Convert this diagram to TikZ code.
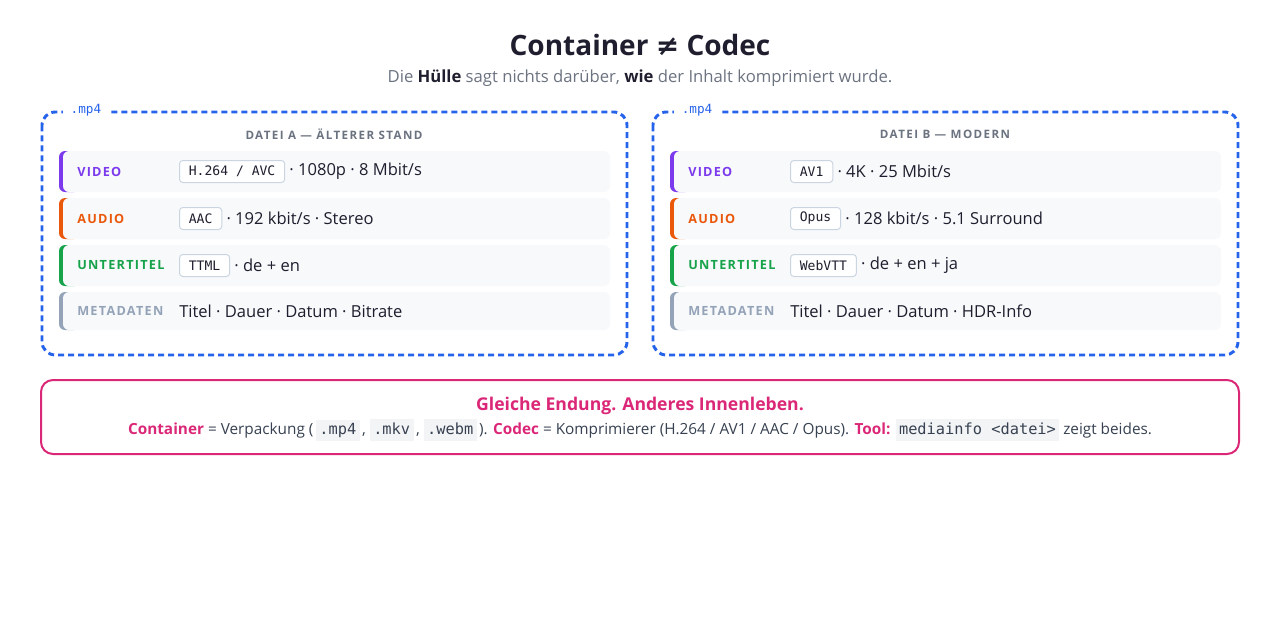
\documentclass[tikz,border=0pt]{standalone}
\usepackage{fontspec}
\setmainfont{Open Sans}
\setmonofont{DejaVu Sans Mono}
\newfontfamily\symfont{DejaVu Sans}
\usetikzlibrary{positioning}

\definecolor{ink}{HTML}{1E1E2E}
\definecolor{subgray}{HTML}{6B7280}
\definecolor{mp4blue}{HTML}{2563EB}
\definecolor{vidc}{HTML}{7C3AED}
\definecolor{audc}{HTML}{EA580C}
\definecolor{subc}{HTML}{16A34A}
\definecolor{metc}{HTML}{94A3B8}
\definecolor{rowfill}{HTML}{F8F9FB}
\definecolor{badge}{HTML}{CBD5E1}
\definecolor{notepink}{HTML}{DB2777}
\definecolor{chipbg}{HTML}{F3F4F6}
\definecolor{notetext}{HTML}{374151}

\newcommand\chip[1]{{\setlength{\fboxsep}{2.5pt}\colorbox{chipbg}{\ttfamily\vphantom{Ay}#1}}}

\begin{document}
\begin{tikzpicture}[x=0.75pt,y=0.75pt,yscale=-1,
	rowlab/.style={anchor=west, inner sep=0pt, font=\fontsize{9.5}{11}\selectfont\bfseries\addfontfeatures{LetterSpace=10}},
	codec/.style={draw=badge, fill=white, rounded corners=2.5pt, line width=0.75pt, inner xsep=7pt, inner ysep=0pt, minimum height=16.5pt, anchor=west, font=\ttfamily\fontsize{9.8}{11}\selectfont, text=ink},
	info/.style={inner sep=0pt, anchor=west, font=\fontsize{12.4}{14}\selectfont, text=ink},
	rowbg/.style={fill=rowfill, rounded corners=4.5pt},
	hull/.style={draw=mp4blue, line width=2.2pt, dash pattern=on 4.5pt off 3pt, rounded corners=10pt},
	ext/.style={fill=white, inner xsep=6pt, inner ysep=1pt, font=\ttfamily\fontsize{9.5}{10}\selectfont, text=mp4blue},
	head/.style={inner sep=0pt, font=\fontsize{8.7}{10}\selectfont\bfseries\addfontfeatures{LetterSpace=12}, text=subgray}
	]
	\useasboundingbox (0,0) rectangle (1280,640);

	% title
	\node[font=\fontsize{21}{24}\selectfont\bfseries, text=ink] (title) at (640,45) {Container {\symfont ≠} Codec};
	\node[font=\fontsize{12.5}{15}\selectfont, text=subgray] (subtitle) at (640,78) {Die {\bfseries\color{ink}Hülle} sagt nichts darüber, {\bfseries\color{ink}wie} der Inhalt komprimiert wurde.};

	% Datei A
	\draw[hull] (42,112) rectangle (627,355);
	\node[ext] (a-ext) at (86,110) {.mp4};
	\node[head] (a-head) at (334,134) {DATEI A — ÄLTERER STAND};

	\fill[vidc, rounded corners=4.5pt] (59,151) rectangle (80,192);
	\fill[rowbg] (63,151) rectangle (610,192);
	\node[rowlab, text=vidc] (a-video) at (77,171.5) {VIDEO};
	\node[codec] (a-video-codec) at (179,171.5) {H.264 / AVC};
	\node[info, right=3pt of a-video-codec] (a-video-info) {· 1080p · 8 Mbit/s};

	\fill[audc, rounded corners=4.5pt] (59,198) rectangle (80,239);
	\fill[rowbg] (63,198) rectangle (610,239);
	\node[rowlab, text=audc] (a-audio) at (77,218.5) {AUDIO};
	\node[codec] (a-audio-codec) at (179,218.5) {AAC};
	\node[info, right=3pt of a-audio-codec] (a-audio-info) {· 192 kbit/s · Stereo};

	\fill[subc, rounded corners=4.5pt] (59,245) rectangle (80,286);
	\fill[rowbg] (63,245) rectangle (610,286);
	\node[rowlab, text=subc] (a-sub) at (77,265.5) {UNTERTITEL};
	\node[codec] (a-sub-codec) at (179,265.5) {TTML};
	\node[info, right=3pt of a-sub-codec] (a-sub-info) {· de + en};

	\fill[metc, rounded corners=4.5pt] (59,292) rectangle (80,330);
	\fill[rowbg] (63,292) rectangle (610,330);
	\node[rowlab, text=metc] (a-meta) at (77,311) {METADATEN};
	\node[info] (a-meta-info) at (179,311) {Titel · Dauer · Datum · Bitrate};

	% Datei B
	\draw[hull] (653,112) rectangle (1238,355);
	\node[ext] (b-ext) at (697,110) {.mp4};
	\node[head] (b-head) at (945,134) {DATEI B — MODERN};

	\fill[vidc, rounded corners=4.5pt] (670,151) rectangle (691,192);
	\fill[rowbg] (674,151) rectangle (1221,192);
	\node[rowlab, text=vidc] (b-video) at (688,171.5) {VIDEO};
	\node[codec] (b-video-codec) at (790,171.5) {AV1};
	\node[info, right=3pt of b-video-codec] (b-video-info) {· 4K · 25 Mbit/s};

	\fill[audc, rounded corners=4.5pt] (670,198) rectangle (691,239);
	\fill[rowbg] (674,198) rectangle (1221,239);
	\node[rowlab, text=audc] (b-audio) at (688,218.5) {AUDIO};
	\node[codec] (b-audio-codec) at (790,218.5) {Opus};
	\node[info, right=3pt of b-audio-codec] (b-audio-info) {· 128 kbit/s · 5.1 Surround};

	\fill[subc, rounded corners=4.5pt] (670,245) rectangle (691,286);
	\fill[rowbg] (674,245) rectangle (1221,286);
	\node[rowlab, text=subc] (b-sub) at (688,265.5) {UNTERTITEL};
	\node[codec] (b-sub-codec) at (790,265.5) {WebVTT};
	\node[info, right=3pt of b-sub-codec] (b-sub-info) {· de + en + ja};

	\fill[metc, rounded corners=4.5pt] (670,292) rectangle (691,330);
	\fill[rowbg] (674,292) rectangle (1221,330);
	\node[rowlab, text=metc] (b-meta) at (688,311) {METADATEN};
	\node[info] (b-meta-info) at (790,311) {Titel · Dauer · Datum · HDR-Info};

	% note
	\draw[notepink, line width=1.5pt, rounded corners=9pt] (41,380) rectangle (1239,454);
	\node[font=\fontsize{13.2}{16}\selectfont\bfseries, text=notepink] (note-title) at (640,406) {Gleiche Endung. Anderes Innenleben.};
	\node[font=\fontsize{11.5}{13}\selectfont, text=notetext] (note-text) at (640,430) {{\bfseries\color{notepink}Container} = Verpackung (\,\chip{.mp4}\,, \chip{.mkv}\,, \chip{.webm}\,). {\bfseries\color{notepink}Codec} = Komprimierer (H.264 / AV1 / AAC / Opus). {\bfseries\color{notepink}Tool:} \chip{mediainfo <datei>} zeigt beides.};
\end{tikzpicture}
\end{document}
